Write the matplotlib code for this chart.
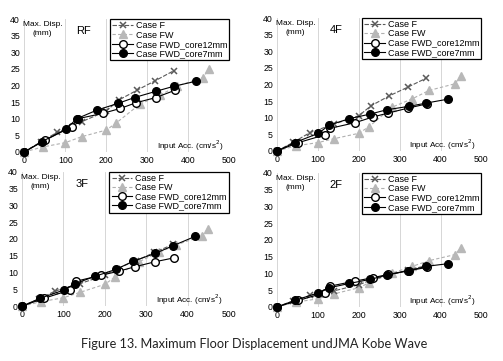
import matplotlib
matplotlib.use('Agg')
import matplotlib.pyplot as plt

# input acceleration (cm/s2) per case
X_F = [0, 40, 80, 140, 200, 230, 275, 320, 365]
X_FW = [0, 45, 100, 140, 200, 225, 282, 331, 372, 435, 450]
X_C12 = [0, 52, 116, 130, 191, 234, 272, 321, 368]
X_C7 = [0, 43, 101, 128, 177, 228, 269, 322, 365, 419]

FLOORS = ['RF', '4F', '3F', '2F']

# max displacement (mm)
Y_F = {
    'RF': [0, 3.0, 5.9, 9.1, 12.3, 15.6, 18.6, 21.5, 24.5],
    '4F': [0, 2.6, 5.5, 8.1, 10.6, 13.6, 16.6, 19.2, 21.9],
    '3F': [0, 2.1, 4.5, 6.7, 9.2, 11.2, 13.5, 16.0, 18.4],
    '2F': [0, 1.8, 3.4, 4.8, 6.6, 8.0, 9.5, 11.0, 12.3],
}
Y_FW = {
    'RF': [0, 1.5, 2.8, 4.6, 6.6, 8.8, 14.4, 17.1, 19.8, 22.4, 24.9],
    '4F': [0, 1.5, 2.5, 3.7, 5.3, 7.3, 13.2, 15.7, 18.2, 20.2, 22.6],
    '3F': [0, 1.3, 2.5, 4.1, 6.5, 8.7, 13.2, 16.0, 18.2, 20.9, 23.1],
    '2F': [0, 1.4, 2.4, 3.9, 5.7, 7.2, 10.1, 12.1, 13.8, 15.6, 17.6],
}
Y_C12 = {
    'RF': [0, 3.6, 7.6, 10.0, 11.6, 13.1, 14.8, 16.4, 18.6],
    '4F': [0, 2.5, 4.8, 6.8, 8.5, 10.2, 11.4, 12.9, 14.2],
    '3F': [0, 2.3, 4.8, 7.4, 9.2, 10.4, 11.7, 13.2, 14.4],
    '2F': [0, 1.9, 4.2, 6.2, 7.7, 8.7, 9.7, 10.8, 11.8],
}
Y_C7 = {
    'RF': [0, 3.1, 6.8, 10.0, 12.6, 14.6, 16.4, 18.3, 19.8, 21.3],
    '4F': [0, 2.5, 5.3, 7.8, 9.7, 11.1, 12.4, 13.4, 14.4, 15.6],
    '3F': [0, 2.3, 4.8, 6.7, 8.9, 11.0, 13.4, 15.7, 18.0, 20.8],
    '2F': [0, 1.9, 4.2, 5.7, 7.0, 8.2, 9.5, 10.8, 12.1, 12.9],
}

POS = {
    'RF': [0.048, 0.579, 0.408, 0.368],
    '4F': [0.551, 0.582, 0.406, 0.368],
    '3F': [0.044, 0.152, 0.411, 0.372],
    '2F': [0.551, 0.150, 0.406, 0.371],
}

plt.rcParams['font.family'] = ['Liberation Sans', 'DejaVu Sans']
fig = plt.figure(figsize=(5.03, 3.61), dpi=100)

for fl in FLOORS:
    ax = fig.add_axes(POS[fl])
    ax.plot(X_F, Y_F[fl], color='#5a5a5a', lw=0.8, ls=(0, (4, 1.5)), marker='x',
            ms=5, mew=1.1, label='Case F', clip_on=False, zorder=3)
    ax.plot(X_FW, Y_FW[fl], color='#b0b0b0', lw=0.8, ls=(0, (3, 2)), marker='^',
            ms=5.5, mfc='#b8b8b8', mec='#b8b8b8', label='Case FW', clip_on=False, zorder=2)
    ax.plot(X_C12, Y_C12[fl], color='black', lw=0.8, marker='o', ms=5.5, mfc='white',
            mec='black', mew=1.0, label='Case FWD_core12mm', clip_on=False, zorder=4)
    ax.plot(X_C7, Y_C7[fl], color='black', lw=0.8, marker='o', ms=5.5, mfc='black',
            mec='black', label='Case FWD_core7mm', clip_on=False, zorder=5)
    ax.set_xlim(0, 500)
    ax.set_ylim(0, 40)
    ax.set_xticks(range(0, 501, 100))
    ax.set_yticks(range(0, 41, 5))
    ax.tick_params(labelsize=6.3, length=0, pad=3)
    ax.grid(axis='x', color='#d0d0d0', lw=0.6)
    ax.set_axisbelow(True)
    for s in ax.spines.values():
        s.set_visible(False)
    ax.text(45, 37, 'Max. Disp.\n(mm)', fontsize=6, ha='center', va='center', linespacing=1.4)
    ax.text(145, 36.5, fl, fontsize=8, ha='center', va='center')
    ax.text(485, 1.8, 'Input Acc. (cm/s$^2$)', fontsize=5.9, ha='right', va='center')
    leg = ax.legend(loc='upper right', bbox_to_anchor=(1.0, 1.0), fontsize=6.5,
                    handlelength=2.3, handletextpad=0.3, labelspacing=0.02,
                    borderpad=0.25, borderaxespad=0.0, fancybox=False, framealpha=1)
    leg.get_frame().set_edgecolor('black')
    leg.get_frame().set_linewidth(0.9)

fig.text(0.505, 0.047, 'Figure 13. Maximum Floor Displacement undJMA Kobe Wave',
         fontsize=9.2, ha='center', va='center', color='#222222', family='Lato')

fig.savefig('out.png', dpi=100)
